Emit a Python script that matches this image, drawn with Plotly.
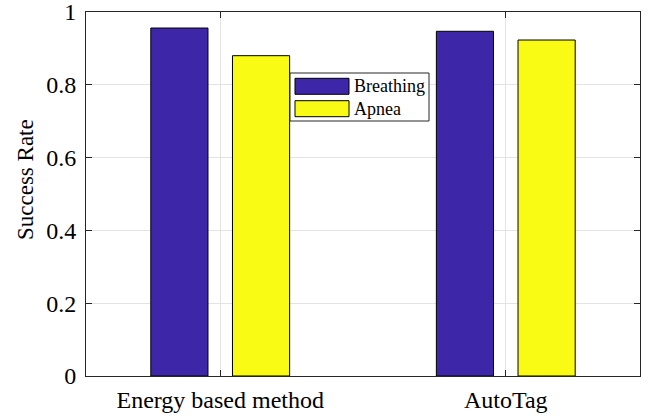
import plotly.graph_objects as go

categories = ["Energy based method", "AutoTag"]
breathing = [0.956, 0.947]
apnea = [0.880, 0.923]
series_names = ["Breathing", "Apnea"]
y_ticks = [0, 0.2, 0.4, 0.6, 0.8, 1]
y_tick_labels = ["0", "0.2", "0.4", "0.6", "0.8", "1"]

BLUE = "rgb(62,38,168)"
YELLOW = "rgb(249,251,21)"
AXC = "#262626"
GRIDC = "#e3e3e3"
FONT = "Liberation Serif, Times New Roman, serif"

W, H = 650, 416
ML, MR, MT, MB = 86, 10, 12, 40
PW, PH = W - ML - MR, H - MT - MB

def px2x(px):
    return (px - ML) / PW

def px2y(py):
    return (H - MB - py) / PH

fig = go.Figure()
fig.add_trace(go.Bar(x=categories, y=breathing, name=series_names[0],
                     marker=dict(color=BLUE, line=dict(color="#000000", width=1)),
                     showlegend=False))
fig.add_trace(go.Bar(x=categories, y=apnea, name=series_names[1],
                     marker=dict(color=YELLOW, line=dict(color="#000000", width=1)),
                     showlegend=False))

# manual MATLAB-style legend
shapes = []
annotations = []
shapes.append(dict(type="rect", xref="paper", yref="paper",
                   x0=px2x(290), x1=px2x(429), y0=px2y(121), y1=px2y(73),
                   fillcolor="white", line=dict(color=AXC, width=1), layer="above"))
sw = [(BLUE, 78.3, 94.3), (YELLOW, 100.7, 116.7)]
for (col, t, b), name in zip(sw, series_names):
    shapes.append(dict(type="rect", xref="paper", yref="paper",
                       x0=px2x(295), x1=px2x(349), y0=px2y(b), y1=px2y(t),
                       fillcolor=col, line=dict(color="#000000", width=1), layer="above"))
    annotations.append(dict(xref="paper", yref="paper", x=px2x(352), y=px2y((t + b) / 2),
                            text=name, showarrow=False, xanchor="left", yanchor="middle",
                            font=dict(family=FONT, size=18, color="#000000")))

annotations.append(dict(xref="paper", yref="paper", x=px2x(25), y=px2y(180),
                        text="Success Rate", showarrow=False, textangle=-90,
                        xanchor="center", yanchor="middle",
                        font=dict(family=FONT, size=23, color="#000000")))

fig.update_layout(
    width=W, height=H,
    margin=dict(l=ML, r=MR, t=MT, b=MB, autoexpand=False),
    paper_bgcolor="white", plot_bgcolor="white",
    barmode="group", bargap=0.428, bargroupgap=0.3,
    font=dict(family=FONT, size=24, color="#000000"),
    shapes=shapes, annotations=annotations,
    showlegend=False,
)
fig.update_xaxes(
    type="category", range=[-0.47, 1.47], automargin=False,
    showline=True, linecolor=AXC, linewidth=1, mirror="ticks",
    ticks="inside", ticklen=6, tickcolor=AXC,
    showgrid=True, gridcolor=GRIDC, gridwidth=1,
    tickfont=dict(family=FONT, size=24, color="#000000"),
    ticklabelstandoff=2,
)
fig.update_yaxes(
    range=[0, 1], tickvals=y_ticks, ticktext=y_tick_labels, automargin=False,
    showline=True, linecolor=AXC, linewidth=1, mirror="ticks",
    ticks="inside", ticklen=6, tickcolor=AXC,
    showgrid=True, gridcolor=GRIDC, gridwidth=1, zeroline=False,
    tickfont=dict(family=FONT, size=24, color="#000000"),
    ticklabelstandoff=4, ticklabeloverflow="allow",
)

fig.write_html("out.html")
